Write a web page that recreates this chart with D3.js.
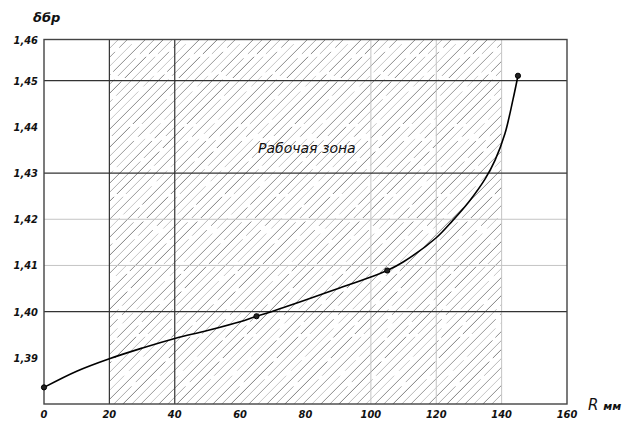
<!DOCTYPE html>
<html>
<head>
<meta charset="utf-8">
<script src="https://cdn.jsdelivr.net/npm/d3@7"></script>
<style>
  body { margin: 0; background: #fff; }
  svg text { font-family: 'DejaVu Sans', sans-serif; font-style: italic; fill: #111; }
  svg text.tick { font-family: 'DejaVu Sans Condensed', 'DejaVu Sans', sans-serif; font-weight: bold; }
</style>
</head>
<body>
<svg width="630" height="421"></svg>
<script>
(function (d3) {
  'use strict'

  // curve (R, mm -> δбр)
  const curveR = [0, 10, 20, 30, 40, 50, 60, 65, 70, 80, 90, 100, 105, 110, 120, 125, 130, 135, 138, 141, 143.5, 145]
  const curveD = [1.3836, 1.3871, 1.3898, 1.3921, 1.3942, 1.3959, 1.3978, 1.3990, 1.4001, 1.4025, 1.4050, 1.4075, 1.4089, 1.4108, 1.4160, 1.4197, 1.4238, 1.4288, 1.4328, 1.4385, 1.4460, 1.4512]

  // measured points (markers)
  const pointR = [0, 65, 105, 145]
  const pointD = [1.3836, 1.3990, 1.4089, 1.4512]

  const xTicks = [0, 20, 40, 60, 80, 100, 120, 140, 160]
  const yTicks = [1.39, 1.40, 1.41, 1.42, 1.43, 1.44, 1.45, 1.46]
  const yTickLabels = ['1,39', '1,40', '1,41', '1,42', '1,43', '1,44', '1,45', '1,46']

  const zone = [20, 140]

  const svg = d3.select('svg')

  const x = d3.scaleLinear().domain([0, 160]).range([44, 567])
  // hand drawn sheet: top band is a little shorter
  const y = d3.scaleLinear().domain([1.38, 1.45, 1.46]).range([404, 80.7, 39.5])

  const top = y(1.46)
  const bottom = y(1.38)

  // hatched working zone
  svg.append('clipPath').attr('id', 'zone').
    append('rect').
    attr('x', x(zone[0])).
    attr('y', top).
    attr('width', x(zone[1]) - x(zone[0])).
    attr('height', bottom - top)

  const h = bottom - top
  const greys = ['#707070', '#b0b0b0', '#8c8c8c', '#c0c0c0', '#7e7e7e', '#a0a0a0']
  const dashes = ['60,5,30,4', '25,6,80,5', '90,4', '40,7,15,5', '120,6', '35,5,55,4']
  svg.append('g').attr('clip-path', 'url(#zone)').
    selectAll('line').
    data(d3.range(x(zone[0]) - h, x(zone[1]) + 2, 9)).
    enter().
    append('line').
    attr('x1', function (d) { return d }).
    attr('y1', bottom).
    attr('x2', function (d) { return d + h }).
    attr('y2', top).
    attr('stroke', function (d, i) { return greys[i % greys.length] }).
    attr('stroke-width', 0.9).
    attr('stroke-dasharray', function (d, i) { return dashes[(i * 5) % dashes.length] })

  // light grid
  const light = svg.append('g').attr('stroke', '#c4c4c4').attr('stroke-width', 1)
  light.selectAll('line.h').
    data([1.41, 1.42]).
    enter().
    append('line').
    attr('x1', x(0)).attr('x2', x(160)).
    attr('y1', function (d) { return y(d) }).
    attr('y2', function (d) { return y(d) })
  light.selectAll('line.v').
    data([100, 120, 140]).
    enter().
    append('line').
    attr('y1', top).attr('y2', bottom).
    attr('x1', function (d) { return x(d) }).
    attr('x2', function (d) { return x(d) })

  // dark grid
  const dark = svg.append('g').attr('stroke', '#333').attr('stroke-width', 1.2)
  dark.selectAll('line.h').
    data([1.40, 1.43, 1.45]).
    enter().
    append('line').
    attr('x1', x(0)).attr('x2', x(160)).
    attr('y1', function (d) { return y(d) }).
    attr('y2', function (d) { return y(d) })
  dark.selectAll('line.v').
    data([20, 40]).
    enter().
    append('line').
    attr('y1', top).attr('y2', bottom).
    attr('x1', function (d) { return x(d) }).
    attr('x2', function (d) { return x(d) })

  // frame
  svg.append('rect').
    attr('x', x(0)).attr('y', top).
    attr('width', x(160) - x(0)).attr('height', bottom - top).
    attr('fill', 'none').attr('stroke', '#444').attr('stroke-width', 1.4)

  // tick labels
  svg.append('g').selectAll('text').
    data(yTicks).
    enter().
    append('text').
    attr('class', 'tick').
    attr('x', 38).
    attr('y', function (d) { return y(d) + 4 }).
    attr('text-anchor', 'end').
    attr('font-size', 11).
    text(function (d, i) { return yTickLabels[i] })

  svg.append('g').selectAll('text').
    data(xTicks).
    enter().
    append('text').
    attr('class', 'tick').
    attr('x', function (d) { return x(d) }).
    attr('y', 418).
    attr('text-anchor', 'middle').
    attr('font-size', 11).
    text(function (d) { return d })

  // axis titles
  svg.append('text').attr('x', 33).attr('y', 22).
    attr('font-size', 13).attr('font-weight', 'bold').text('δбр')
  const rt = svg.append('text').attr('x', 588).attr('y', 410).attr('font-size', 15)
  rt.append('tspan').text('R ')
  rt.append('tspan').attr('font-size', 11).attr('font-weight', 'bold').text('мм')

  svg.append('text').attr('x', 258).attr('y', 153).
    attr('font-size', 14).text('Рабочая зона')

  // curve
  const line = d3.line().
    x(function (d, i) { return x(curveR[i]) }).
    y(function (d) { return y(d) }).
    curve(d3.curveCatmullRom.alpha(0.5))

  svg.append('path').
    attr('d', line(curveD)).
    attr('fill', 'none').
    attr('stroke', '#000').
    attr('stroke-width', 1.6)

  svg.append('g').selectAll('circle').
    data(pointD).
    enter().
    append('circle').
    attr('cx', function (d, i) { return x(pointR[i]) }).
    attr('cy', function (d) { return y(d) }).
    attr('r', 2.6).
    attr('fill', '#222').
    attr('stroke', '#000')
}(d3))
</script>
</body>
</html>
